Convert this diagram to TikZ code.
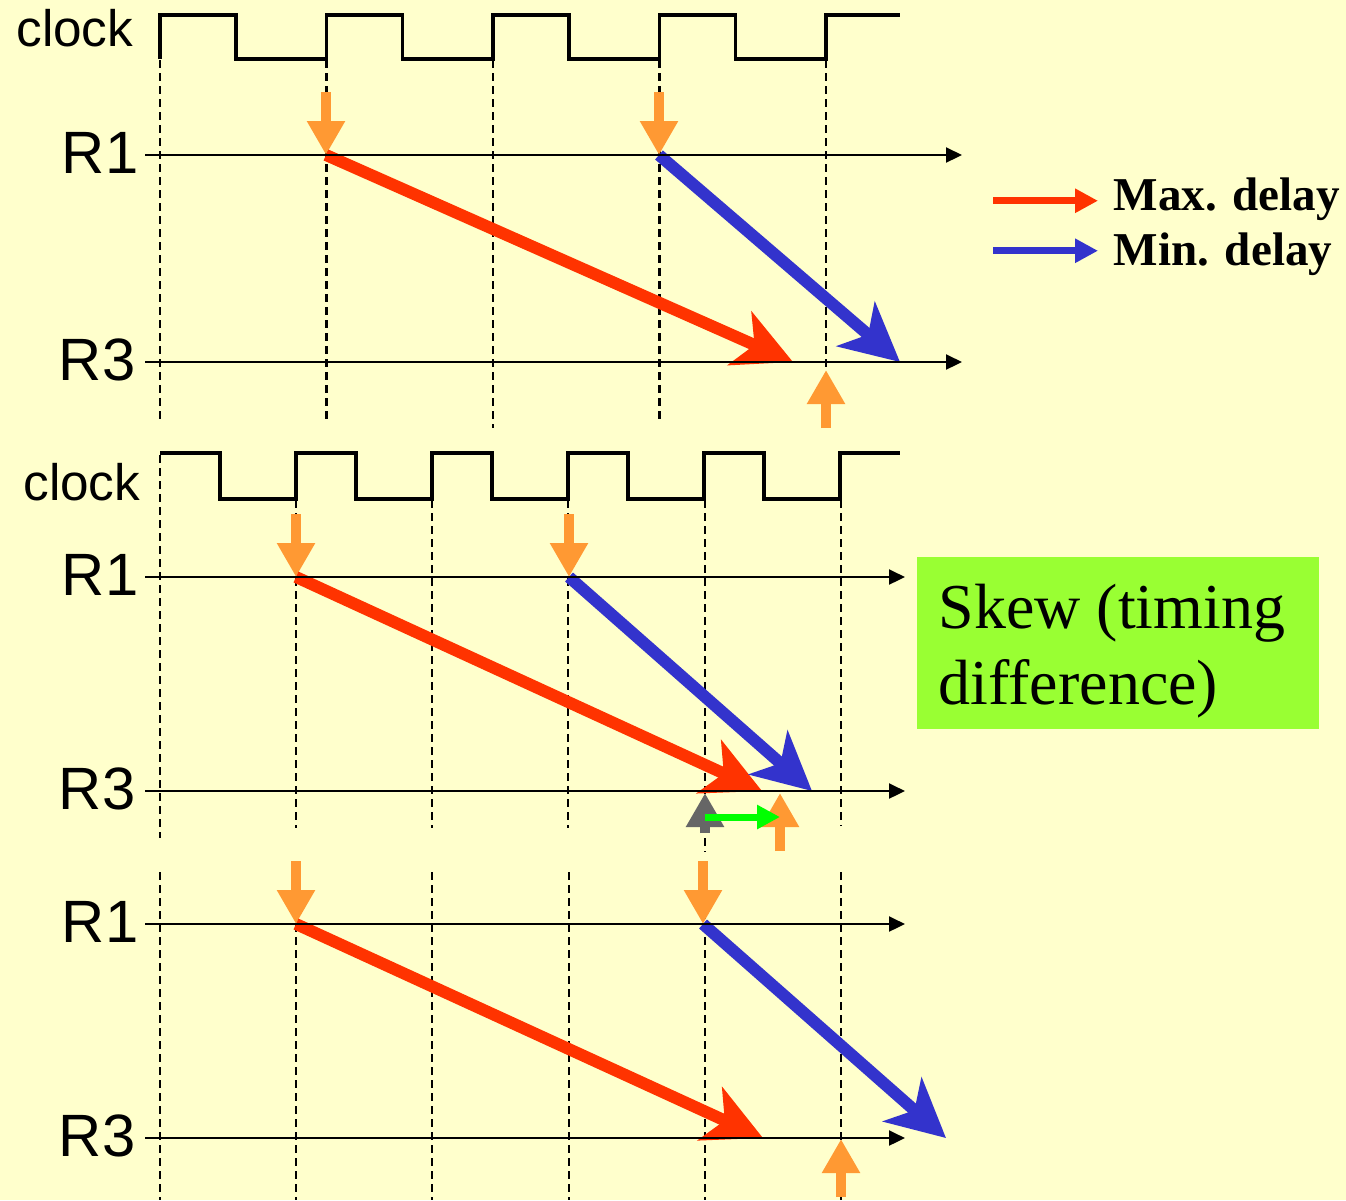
\documentclass[tikz,border=0pt]{standalone}
\usepackage{fontspec}
\setmainfont{Liberation Serif}
\setsansfont{Liberation Sans}
\usepackage{xcolor}
\usetikzlibrary{arrows.meta,positioning}

\definecolor{slidebg}{HTML}{FFFFCC}
\definecolor{maxred}{HTML}{FF3300}
\definecolor{minblue}{HTML}{3333CC}
\definecolor{edgeorange}{HTML}{FF9933}
\definecolor{skewgreen}{HTML}{99FF33}
\definecolor{skewline}{HTML}{00FF00}
\definecolor{refgrey}{HTML}{666666}

\begin{document}
\begin{tikzpicture}[
      reg/.style={font=\sffamily\fontsize{17}{20}\selectfont, inner sep=0pt, anchor=base east},
      clklbl/.style={font=\sffamily\fontsize{14.6}{17}\selectfont, inner sep=0pt, anchor=base east},
      leg/.style={font=\bfseries\fontsize{13.4}{16}\selectfont, inner sep=0pt, anchor=base west},
      clk/.style={line width=1.1pt, line join=miter},
      grid/.style={line width=0.6pt, dash pattern=on 2.3pt off 1.4pt},
      axis/.style={line width=0.6pt, -{Triangle[length=1.6mm,width=1.5mm]}},
      delay/.style={line width=3.4pt, -{Stealth[length=5.8mm,width=5.8mm,inset=1.6mm]}},
      maxd/.style={delay, maxred},
      mind/.style={delay, minblue},
      edge/.style={line width=3.1pt, -{Triangle[length=3.4mm,width=3.6mm]}},
      legarr/.style={line width=2pt, -{Triangle[length=2.3mm,width=2.3mm]}},
      >=Stealth]
    \useasboundingbox (0,0) rectangle (13.46,-12);
    \fill[slidebg] (0,0) rectangle (13.46,-12);

    % sampling points
    \coordinate (p1max) at (3.26,-1.55);
    \coordinate (p1min) at (6.59,-1.55);
    \coordinate (p1maxe) at (7.93,-3.62);
    \coordinate (p1mine) at (9.00,-3.62);
    \coordinate (p1cap) at (8.26,-3.70);
    \coordinate (p2max) at (2.96,-5.77);
    \coordinate (p2min) at (5.69,-5.77);
    \coordinate (p2maxe) at (7.62,-7.91);
    \coordinate (p2mine) at (8.12,-7.91);
    \coordinate (p2ref) at (7.05,-7.93);
    \coordinate (p2cap) at (7.80,-7.93);
    \coordinate (p3max) at (2.96,-9.24);
    \coordinate (p3min) at (7.03,-9.24);
    \coordinate (p3maxe) at (7.63,-11.38);
    \coordinate (p3mine) at (9.46,-11.38);
    \coordinate (p3cap) at (8.41,-11.39);

    % clock edges
    \foreach \x/\ya/\yb in {1.60/-0.60/-4.22,3.265/-0.60/-4.22,4.93/-0.60/-4.28,
        6.595/-0.60/-4.22,8.26/-0.60/-4.28,
        1.60/-4.55/-8.38,2.96/-5.00/-8.28,4.32/-5.00/-8.28,5.68/-5.00/-8.28,
        7.05/-5.00/-8.52,8.41/-5.00/-8.26,
        1.60/-8.72/-12,2.96/-8.72/-12,4.32/-8.72/-12,5.69/-8.72/-12,
        7.05/-8.72/-12,8.41/-8.72/-12}
      \draw[grid] (\x,\ya) -- (\x,\yb);

    \node[clklbl] (clka) at (1.34,-0.46) {clock};
    \draw[clk] (1.60,-0.59) \foreach \i in {1,...,4} { -- ++(0,0.44) -- ++(0.76,0) -- ++(0,-0.44) -- ++(0.905,0) } -- ++(0,0.44) -- ++(0.74,0);
    \node[clklbl] (clkb) at (1.41,-5.00) {clock};
    \draw[clk] (1.60,-4.53) -- ++(0.60,0) -- ++(0,-0.46) -- ++(0.76,0) \foreach \i in {1,...,4} { -- ++(0,0.46) -- ++(0.60,0) -- ++(0,-0.46) -- ++(0.76,0) } -- ++(0,0.46) -- ++(0.60,0);

    % launch and capture edges
    \foreach \p in {p1max,p1min,p2max,p2min,p3max,p3min}
      \draw[edge, edgeorange] ([yshift=6.3mm]\p) -- (\p);
    \foreach \p in {p1cap,p2cap,p3cap}
      \draw[edge, edgeorange] ([yshift=-5.8mm]\p) -- (\p);
    \draw[edge, refgrey] ([yshift=-4mm]p2ref) -- (p2ref);
    \draw[legarr, skewline] ([yshift=-2.4mm]p2ref) -- ([yshift=-2.4mm]p2cap);

    % data paths
    \draw[maxd] (p1max) -- (p1maxe);
    \draw[mind] (p1min) -- (p1mine);
    \draw[maxd] (p2max) -- (p2maxe);
    \draw[mind] (p2min) -- (p2mine);
    \draw[maxd] (p3max) -- (p3maxe);
    \draw[mind] (p3min) -- (p3mine);

    \foreach \nm/\txt/\xa/\y/\xe in {ra1/R1/1.39/-1.55/9.62,ra3/R3/1.36/-3.62/9.62,
        rb1/R1/1.39/-5.77/9.05,rb3/R3/1.36/-7.91/9.05,
        rc1/R1/1.39/-9.24/9.05,rc3/R3/1.36/-11.38/9.05} {
      \node[reg] (\nm) at (\xa,\y-0.18) {\txt};
      \draw[axis] (1.45,\y) -- (\xe,\y);
    }

    % legend
    \node[leg] (maxl) at (11.13,-2.10) {Max. delay};
    \node[leg] (minl) at (11.13,-2.65) {Min. delay};
    \draw[legarr, maxred] ([xshift=-12mm,yshift=-0.2mm]maxl.west) -- ([xshift=-1.5mm,yshift=-0.2mm]maxl.west);
    \draw[legarr, minblue] ([xshift=-12mm,yshift=0.3mm]minl.west) -- ([xshift=-1.5mm,yshift=0.3mm]minl.west);

    \node[fill=skewgreen, minimum width=4.02cm, minimum height=1.72cm, inner sep=0pt, anchor=north west] (skew) at (9.16,-5.56) {};
    \node[font=\fontsize{18.2}{21.8}\selectfont, inner sep=0pt, align=left, anchor=north west] (skewtxt) at ([xshift=2.2mm,yshift=-2.7mm]skew.north west) {Skew (timing\\difference)};
  \end{tikzpicture}
\end{document}
